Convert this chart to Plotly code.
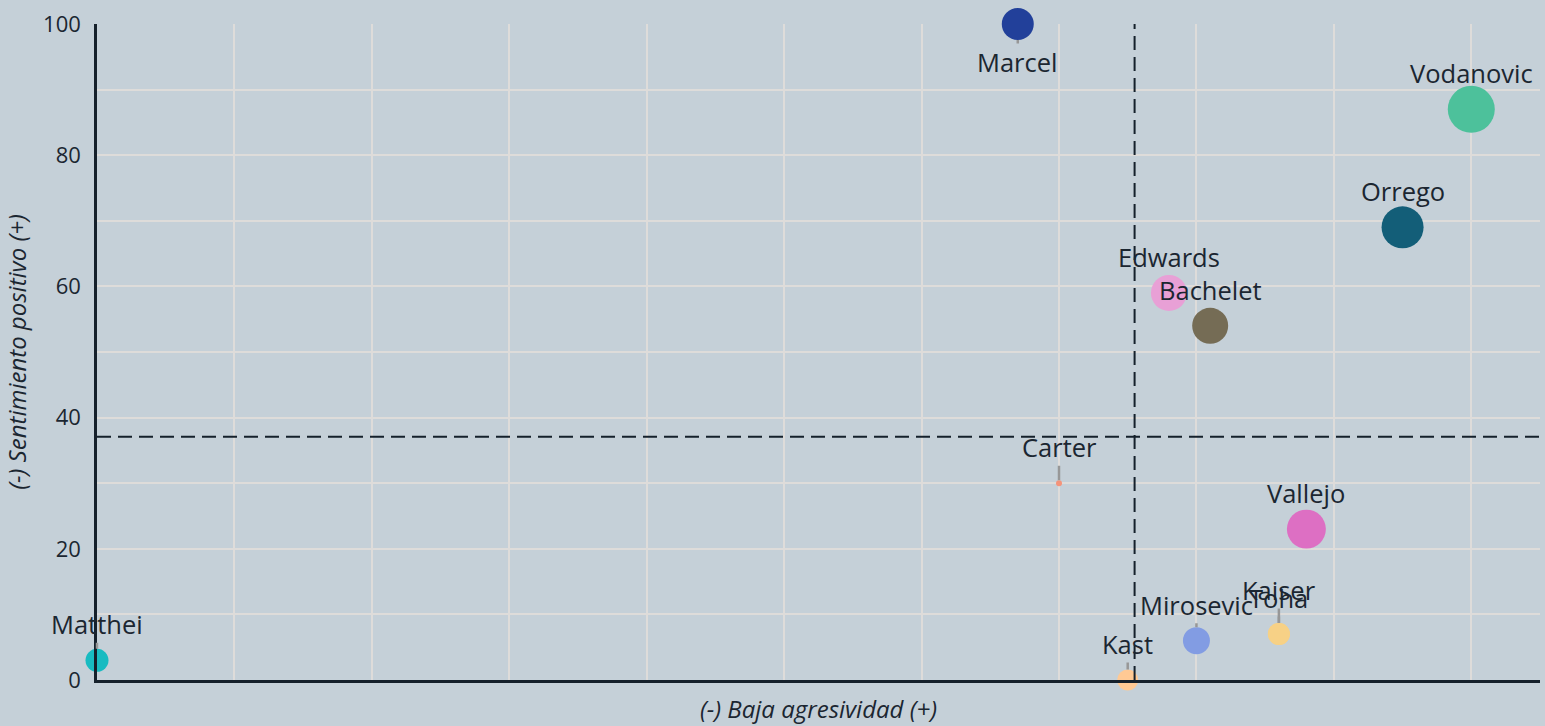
import plotly.graph_objects as go

candidatos = ["Marcel", "Vodanovic", "Orrego", "Edwards", "Bachelet", "Carter",
              "Vallejo", "Kaiser", "Toha", "Mirosevic", "Kast", "Matthei"]
agresividad = [0.67, 1.0, 0.95, 0.78, 0.81, 0.70, 0.88, 0.86, 0.86, 0.80, 0.75, 0.0]
sentimiento = [100, 87, 69, 59, 54, 30, 23, 7, 7, 6, 0, 3]
volumen = [256, 552, 441, 324, 324, 9, 380, 121, 121, 182, 110, 132]
colores = ["#22409A", "#4DC19B", "#135E78", "#E8A0D6", "#756C55", "#F4937A",
           "#DD6FC3", "#F7D186", "#F7D186", "#829CE3", "#FFC994", "#18BBC1"]

SIZEREF = 0.5
radios = [(v / (2 * SIZEREF)) ** 0.5 for v in volumen]

fig = go.Figure()
fig.add_trace(go.Scatter(
    x=agresividad, y=sentimiento, mode="markers",
    marker=dict(size=volumen, sizemode="area", sizeref=SIZEREF, color=colores,
                opacity=1, line=dict(width=0)),
    cliponaxis=False, hoverinfo="text", text=candidatos, showlegend=False,
))

mx = sum(agresividad) / len(agresividad)
my = sum(sentimiento) / len(sentimiento)

dark = "#15202B"
fig.add_shape(type="line", xref="x", yref="y", x0=mx, x1=mx, y0=0, y1=100,
              line=dict(color=dark, width=2, dash="14px,7px"), layer="above")
fig.add_shape(type="line", xref="paper", yref="y", x0=0, x1=1, y0=my, y1=my,
              line=dict(color=dark, width=2, dash="14px,7px"), layer="above")

for name, xv, yv, r in zip(candidatos, agresividad, sentimiento, radios):
    ay = -36
    if name == "Marcel":
        ay = 38
    elif name == "Kaiser":
        ay = -44
    fig.add_annotation(x=xv, y=yv, text=name, showarrow=True, arrowhead=0,
                       arrowcolor="#979797", arrowwidth=2.5, ax=0, ay=ay,
                       standoff=r, font=dict(size=25.5, color="#1B2631", family="Open Sans"))

grid = "#DEDCDA"
bg = "#C5D0D8"
fig.update_layout(
    width=1545, height=726,
    margin=dict(l=97, r=5, t=24, b=46),
    paper_bgcolor=bg, plot_bgcolor=bg,
    font=dict(family="Open Sans", color="#1B2631"),
    xaxis=dict(range=[0, 1.05], dtick=0.1, tick0=0, showticklabels=False,
               showgrid=True, gridcolor=grid, gridwidth=2, zeroline=False,
               showline=True, linecolor=dark, linewidth=2.5,
               title=dict(text="<i>(-) Baja agresividad (+)</i>", standoff=20,
                          font=dict(size=24, color="#1B2631")),
               automargin=False),
    yaxis=dict(range=[0, 100], dtick=20, tick0=0, showgrid=True, gridcolor=grid,
               gridwidth=2, zeroline=False, showline=True, linecolor=dark, linewidth=2.5,
               minor=dict(dtick=10, showgrid=True, gridcolor=grid, gridwidth=2),
               tickfont=dict(size=22, color="#1B2631"), ticklabelstandoff=9,
               ticklabeloverflow="allow",
               title=dict(text="<i>(-) Sentimiento positivo (+)</i>", standoff=10,
                          font=dict(size=24, color="#1B2631")),
               automargin=False),
)

fig.write_html(
    "out.html",
    config={"displayModeBar": False},
    post_script=("document.body.style.margin='0';"
                 "document.body.style.overflow='hidden';"
                 "document.body.style.background='" + bg + "';"),
)
